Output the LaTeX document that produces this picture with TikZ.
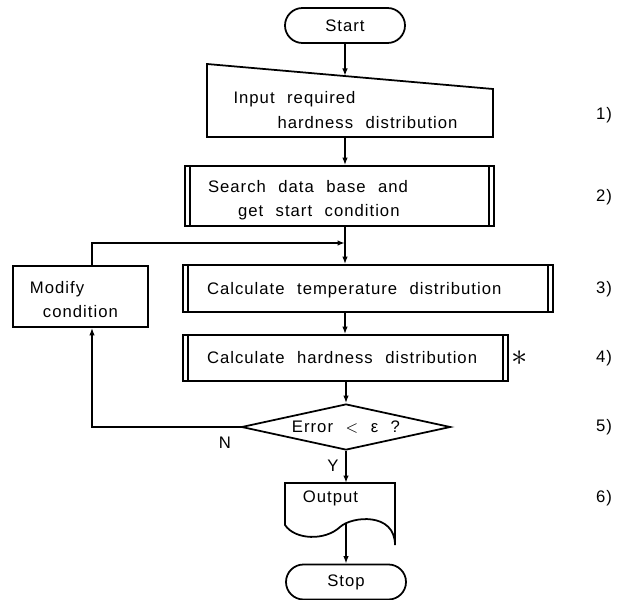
\documentclass[tikz,border=0pt]{standalone}
\usepackage{fontspec}
\setmainfont{Liberation Sans}[LetterSpace=6]
\usetikzlibrary{arrows.meta,positioning,shapes.geometric,shapes.misc}
\tikzset{
  >=Latex,
  every node/.append style = {font=\fontsize{9.5}{13.5}\selectfont,
                              execute at begin node={\spaceskip=0.75em plus 0.1em\relax}},
  % --- boxes ---------------------------------------------------------------
  term/.style     = {draw, line width=1pt, rounded rectangle,
                     minimum width=24mm, minimum height=7mm, inner sep=0pt},
  procbox/.style  = {draw, line width=1pt, align=left, inner ysep=0pt},
  predef/.style   = {procbox,
                     path picture={\draw[line width=0.8pt]
                       ([xshift=1mm]path picture bounding box.north west) --
                       ([xshift=1mm]path picture bounding box.south west)
                       ([xshift=-1mm]path picture bounding box.north east) --
                       ([xshift=-1mm]path picture bounding box.south east);}},
  decision/.style = {draw, line width=1pt, diamond, aspect=4.5, inner sep=0pt,
                     minimum width=41.8mm, minimum height=9.2mm},
  txt/.style      = {inner sep=0pt, align=left},
  % --- connectors ----------------------------------------------------------
  flow/.style     = {draw, line width=1pt, -{Latex[length=1.5mm,width=1.1mm]}},
  outline/.style  = {draw, line width=1pt, line join=miter},
}
\begin{document}
\begin{tikzpicture}[x=0.2mm, y=-0.2mm]
\useasboundingbox (0,0) rectangle (626,600);

% ------------------------------- terminals ---------------------------------
\node[term] (start) at (345,25.5) {Start};
\node[term] (stop)  at (346,582)  {Stop};

% ------------------------------- input -------------------------------------
\draw[outline] (207,64) -- (493,89) -- (493,137) -- (207,137) -- cycle;
\node[txt] (inp) at (345.5,110) {Input required\\[1pt]\hspace*{8.8mm}hardness distribution};
\coordinate (inptop) at (345,76);
\coordinate (inpbot) at (345,137);

% ------------------------------- processes ---------------------------------
\node[predef, text width=52.6mm, inner xsep=4.6mm, minimum height=12mm]
     (search) at (339.5,196)
     {\rule{0pt}{11.5pt}Search data base and\\\hspace*{6mm}get start condition};
\node[predef, text width=64.4mm, inner xsep=4.8mm, minimum height=9.4mm]
     (temp) at (368,288.5) {\rule{0pt}{9pt}Calculate temperature distribution};
\node[predef, text width=55.4mm, inner xsep=4.8mm, minimum height=9.2mm]
     (hard) at (345.5,358) {Calculate hardness distribution};
\node[procbox, text width=20.2mm, inner xsep=3.4mm, minimum height=12.2mm]
     (mod) at (80.5,296.5) {\rule{0pt}{10.5pt}Modify\\\hspace*{2.6mm}condition};
\node[txt] (star) at (520,358) {\scalebox{2}{$\ast$}};

% ------------------------------- decision ----------------------------------
\node[decision] (dec) at (346,427) {Error $<$ ε ?};
\node[txt] (no)  at (225,443) {N};
\node[txt] (yes) at (333,466) {Y};

% ------------------------------- output ------------------------------------
\draw[outline] (285,525) .. controls (295,540) and (325,541) .. (340,527)
             .. controls (352,516) and (395,512) .. (395,545)
             -- (395,483) -- (285,483) -- cycle;
\node[txt] (out) at (330.5,498) {Output};
\coordinate (outtop) at (346,483);
\coordinate (outbot) at (346,524);

% ------------------------------- step numbers ------------------------------
\foreach \k/\y in {1/115,2/197,3/289,4/358,5/427,6/498}
  \node[txt] (lbl\k) at (604,\y) {\k)};

% ------------------------------- flow --------------------------------------
\coordinate (jn) at (345,243);
\draw[flow] (start) -- (inptop);
\draw[flow] (inpbot) -- (inpbot |- search.north);
\draw[flow] (jn |- search.south) -- (jn |- temp.north);
\draw[flow] (jn |- temp.south) -- (jn |- hard.north);
\draw[flow] (dec.north |- hard.south) -- (dec.north);
\draw[flow] (dec.south) -- (outtop);
\draw[flow] (outbot) -- (stop.north);
\draw[flow] (dec.west) -| ([xshift=2.3mm]mod.south);
\draw[flow] ([xshift=2.3mm]mod.north) |- (jn);

\end{tikzpicture}
\end{document}
